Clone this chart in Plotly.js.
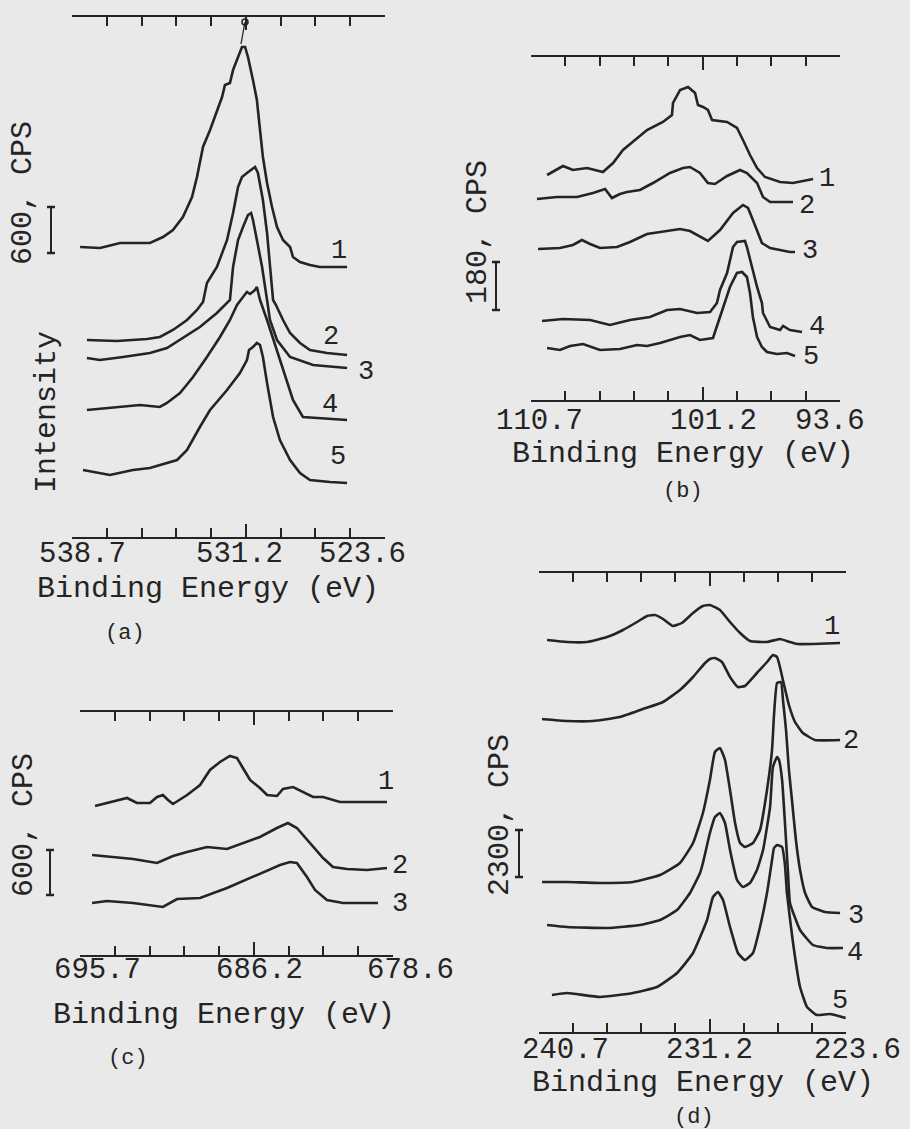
<!DOCTYPE html>
<html>
<head>
<meta charset="utf-8">
<script src="https://cdn.plot.ly/plotly-3.0.1.min.js"></script>
<style>html,body{margin:0;padding:0;background:#e9e9e9;}#chart{width:910px;height:1129px;}</style>
</head>
<body>
<div id="chart"></div>
<script>
// ---------------- DATA (binding energy in eV, intensity in arbitrary units; curves stacked as drawn) ----------------
// Panel (a) O 1s
const aTickText = ['538.7', '531.2', '523.6'];
const a1x = [538.31,537.35,536.38,534.94,534.31,533.83,533.35,532.91,532.67,532.38,532.04,531.71,531.46,531.32,531.08,530.93,530.69,530.50,530.35,530.21,529.97,529.78,529.63,529.49,529.29,529.05,528.81,528.52,528.18,528.04,527.70,527.22,526.74,525.43];
const a1y = [290,289,294,294,300,307,320,340,360,390,407,427,440,452,454,467,480,490,490,480,457,437,407,380,354,330,310,297,290,280,275,272,270,270];
const a2x = [537.98,536.53,535.08,534.46,533.83,533.15,532.67,532.38,532.19,531.71,531.22,530.93,530.69,530.50,530.26,529.87,529.73,529.49,529.29,529.15,529.00,528.86,528.52,528.18,527.70,527.22,526.40,525.43];
const a2y = [197,196,198,200,207,217,227,235,254,270,297,324,350,360,364,370,364,337,304,270,237,232,217,204,194,187,184,182];
const a3x = [537.98,537.35,536.24,534.94,534.12,533.35,532.53,531.71,531.22,531.08,530.93,530.69,530.45,530.21,530.06,529.97,529.78,529.53,529.29,529.15,528.81,528.18,527.07,525.43];
const a3y = [179,177,180,184,189,199,210,224,234,237,270,297,310,322,324,317,297,270,237,217,197,180,172,169];
const a4x = [537.98,536.87,535.42,534.46,534.12,533.49,532.86,532.19,531.56,531.08,530.74,530.45,530.26,530.11,529.87,529.78,529.63,529.29,528.81,528.33,528.04,527.56,526.74,525.43];
const a4y = [127,129,132,130,134,144,160,180,200,217,232,240,245,243,247,250,237,217,187,157,137,120,119,117];
const a5x = [538.17,537.49,536.87,535.76,534.94,533.63,533.15,532.53,532.04,531.22,530.60,530.26,530.16,529.97,529.78,529.63,529.49,529.29,529.00,528.67,528.18,527.70,527.22,526.25,525.43];
const a5y = [67,64,62,67,69,77,87,110,127,147,164,177,187,190,194,192,180,154,120,97,77,64,57,55,54];

// Panel (b) Si 2p
const bTickText = ['110.7', '101.2', '93.6'];
const b1x = [109.81,108.93,108.38,107.60,106.72,106.16,105.61,104.83,104.28,103.40,102.90,102.84,102.45,102.01,101.62,101.46,101.18,100.91,100.68,99.85,99.30,98.97,98.58,98.19,97.75,96.92,96.20,95.09];
const b1y = [225,234,230,232,228,237,250,262,270,278,285,297,310,313,307,295,293,290,280,278,272,260,245,232,223,218,217,221];
const b2x = [110.37,109.26,108.15,107.27,106.60,106.22,105.78,105.39,104.67,103.95,103.01,102.29,101.90,101.35,100.91,100.52,99.85,99.13,98.75,98.19,97.86,97.47,96.20];
const b2y = [201,203,203,207,211,202,206,208,210,217,227,232,233,227,217,216,224,230,227,217,203,198,198];
const b3x = [110.31,109.10,108.38,107.88,107.43,106.88,105.94,105.22,104.28,103.17,102.45,101.90,101.35,100.91,100.24,99.52,98.97,98.69,98.42,97.92,97.47,96.37,96.09];
const b3y = [151,152,155,160,156,152,153,158,166,169,171,169,163,159,170,187,195,192,180,157,152,148,148];
const b4x = [110.09,108.93,107.43,106.33,105.22,104.12,103.17,102.45,101.51,100.79,100.41,100.24,99.85,99.52,99.30,98.86,98.75,98.47,98.19,97.92,97.86,97.47,96.92,96.75,96.37,95.70];
const b4y = [79,81,80,75,80,83,90,91,87,88,97,110,127,153,158,159,153,133,113,97,87,73,70,74,70,68];
const b5x = [109.81,109.10,108.54,107.82,106.88,105.78,104.83,104.28,103.56,102.45,101.90,101.35,100.63,100.35,100.08,99.69,99.30,99.02,98.75,98.58,98.42,98.19,97.92,97.64,97.09,96.53,96.09];
const b5y = [52,50,54,56,50,51,55,54,57,63,65,60,62,77,93,113,127,128,123,107,83,63,53,48,46,47,44];

// Panel (c) F 1s
const cTickText = ['695.7', '686.2', '678.6'];
const c1x = [694.88,694.23,693.68,693.13,692.59,691.88,691.49,691.17,690.89,690.62,689.85,689.14,688.60,688.05,687.51,687.12,686.80,686.41,685.87,685.48,684.94,684.61,684.06,683.52,682.97,682.42,681.50,678.93];
const c1y = [149,152,155,157,152,152,158,160,155,151,160,170,185,193,199,197,187,175,167,160,159,166,168,163,158,158,153,153];
const c2x = [695.04,694.06,692.80,691.49,690.62,689.85,688.76,687.67,686.96,685.87,684.94,684.34,683.85,683.13,682.42,681.88,681.11,680.02,678.93];
const c2y = [100,98,96,92,99,103,108,106,111,118,127,132,127,112,97,88,86,85,87];
const c3x = [695.04,694.23,692.80,691.17,690.40,689.14,687.67,686.25,684.77,684.23,683.85,683.30,682.86,682.21,681.33,679.42];
const c3y = [52,54,52,48,56,57,67,78,90,93,92,78,65,55,52,52];

// Panel (d) Mo 3d
const dTickText = ['240.7', '231.2', '223.6'];
const d1x = [240.25,239.14,238.03,236.91,236.02,235.24,234.68,234.24,233.79,233.24,232.74,232.12,231.57,231.18,230.62,230.06,229.50,228.95,228.00,227.28,226.72,226.33,225.44,223.93];
const d1y = [392,390,390,395,402,410,416,417,413,406,409,419,426,427,422,410,399,391,390,393,390,388,388,389];
const d2x = [240.53,239.14,237.69,236.19,234.91,233.79,232.85,232.12,231.45,231.18,230.90,230.51,230.06,229.62,229.23,228.56,228.00,227.67,227.44,227.28,227.05,226.78,226.44,226.00,225.33,223.93];
const d2y = [313,311,311,315,323,330,342,355,369,373,374,370,355,345,346,359,370,377,375,365,347,327,310,299,292,292];
const d3x = [240.53,239.14,237.30,235.46,233.96,232.85,232.12,231.57,231.18,230.90,230.62,230.34,230.06,229.78,229.50,229.23,228.78,228.39,228.00,227.72,227.61,227.44,227.22,227.11,226.94,226.78,226.61,226.39,226.16,225.88,225.49,224.77,223.93];
const d3y = [150,150,149,150,157,169,189,219,252,280,284,272,242,209,189,185,189,202,242,282,317,349,350,332,302,262,232,192,162,139,125,120,119];
const d4x = [240.25,239.14,236.91,235.07,233.96,233.01,232.29,231.73,231.57,231.18,230.90,230.62,230.34,230.06,229.67,229.34,228.95,228.56,228.22,227.83,227.67,227.44,227.33,227.16,227.00,226.83,226.72,226.16,225.44,224.66,223.77];
const d4y = [107,105,104,107,112,122,139,159,169,199,215,219,209,182,152,145,149,162,182,225,265,275,272,252,209,159,129,102,87,84,84];
const d5x = [239.98,239.14,237.30,235.46,234.13,233.01,232.12,231.34,231.01,230.73,230.45,230.06,229.62,229.23,228.78,228.39,228.00,227.72,227.61,227.44,227.16,227.00,226.89,226.55,226.16,225.77,225.22,224.49,223.62];
const d5y = [37,39,35,39,45,59,79,112,135,140,132,105,79,72,79,105,139,172,184,187,185,167,139,89,45,25,17,18,14];

const curveNames = ['1', '2', '3', '4', '5'];
const xTitle = 'Binding Energy (eV)';
const scaleText = {a: '600, CPS', b: '180, CPS', c: '600, CPS', d: '2300, CPS'};
const panelText = {a: '(a)', b: '(b)', c: '(c)', d: '(d)'};

// ---------------- LAYOUT / STYLE ----------------
const W = 910, H = 1129;
const INK = '#242424';
const FONT = 'Liberation Mono, Courier New, monospace';
const PX = v => v / W, PY = v => 1 - v / H;

// pixel geometry of each panel frame, its end energies and text placements
const geo = {
  a: {L: 72,  R: 385, T: 17,  B: 537,  eL: 538.7, eR: 523.6, ax: '',  ticks: [82, 239, 362], tickY: 555, titleX: 208, titleY: 589, capX: 125, capY: 633, sX: 23,  sY: 193, barX: 51,  bar: [207, 253]},
  b: {L: 531, R: 840, T: 57,  B: 400,  eL: 110.7, eR: 93.6,  ax: '2', ticks: [539, 713, 830], tickY: 421, titleX: 683, titleY: 454, capX: 683, capY: 492, sX: 478, sY: 232, barX: 496, bar: [262, 310]},
  c: {L: 80,  R: 393, T: 712, B: 955,  eL: 695.7, eR: 678.6, ax: '3', ticks: [97, 259, 410], tickY: 970, titleX: 224, titleY: 1015, capX: 128, capY: 1058, sX: 24, sY: 825, barX: 50, bar: [850, 895]},
  d: {L: 539, R: 846, T: 573, B: 1032, eL: 240.7, eR: 223.6, ax: '4', ticks: [565, 709, 857], tickY: 1050, titleX: 703, titleY: 1083, capX: 694, capY: 1117, sX: 500, sY: 815, barX: 519, bar: [830, 877]}
};
// curve-number label positions (px)
const labelPos = {
  a: [[339, 251], [331, 337], [366, 372], [330, 405], [338, 457]],
  b: [[827, 179], [807, 206], [810, 251], [817, 327], [811, 357]],
  c: [[386, 782], [400, 866], [400, 904]],
  d: [[832, 627], [851, 741], [856, 916], [855, 953], [840, 1001]]
};

const series = {
  a: [[a1x, a1y], [a2x, a2y], [a3x, a3y], [a4x, a4y], [a5x, a5y]],
  b: [[b1x, b1y], [b2x, b2y], [b3x, b3y], [b4x, b4y], [b5x, b5y]],
  c: [[c1x, c1y], [c2x, c2y], [c3x, c3y]],
  d: [[d1x, d1y], [d2x, d2y], [d3x, d3y], [d4x, d4y], [d5x, d5y]]
};
const tickTexts = {a: aTickText, b: bTickText, c: cTickText, d: dTickText};

const data = [];
const layout = {
  width: W, height: H,
  margin: {l: 0, r: 0, t: 0, b: 0},
  paper_bgcolor: '#e9e9e9', plot_bgcolor: 'rgba(0,0,0,0)',
  showlegend: false,
  font: {family: FONT, color: INK},
  annotations: [], shapes: []
};

function ann(text, x, y, size, angle) {
  layout.annotations.push({text: text, xref: 'paper', yref: 'paper', x: PX(x), y: PY(y),
    xanchor: 'center', yanchor: 'middle', showarrow: false, textangle: angle || 0,
    font: {family: FONT, size: size, color: INK}});
}
function seg(x0, y0, x1, y1, w) {
  layout.shapes.push({type: 'line', xref: 'paper', yref: 'paper', x0: PX(x0), y0: PY(y0), x1: PX(x1), y1: PY(y1),
    line: {color: INK, width: w || 2}});
}

Object.keys(geo).forEach(k => {
  const g = geo[k];
  const step = (g.eL - g.eR) / 9;
  const all = [];
  for (let i = 0; i <= 9; i++) all.push(g.eL - i * step);
  layout['xaxis' + g.ax] = {
    domain: [PX(g.L), PX(g.R)], range: [g.eL, g.eR], anchor: 'y' + g.ax,
    showline: true, linecolor: INK, linewidth: 2.2, mirror: 'ticks',
    ticks: 'inside', ticklen: 13, tickwidth: 2, tickcolor: INK,
    tickmode: 'array', tickvals: [all[0], all[5], all[9]], showticklabels: false,
    minor: {ticks: 'inside', ticklen: 9, tickwidth: 2, tickcolor: INK, tickmode: 'array', tickvals: all, showgrid: false},
    showgrid: false, zeroline: false, fixedrange: true
  };
  layout['yaxis' + g.ax] = {
    domain: [PY(g.B), PY(g.T)], range: [0, g.B - g.T], anchor: 'x' + g.ax,
    showline: false, showgrid: false, zeroline: false, showticklabels: false, ticks: '', fixedrange: true
  };
  series[k].forEach(s => {
    data.push({x: s[0], y: s[1], xaxis: 'x' + g.ax, yaxis: 'y' + g.ax, type: 'scatter', mode: 'lines',
      line: {color: INK, width: 2.6, shape: k === 'd' ? 'spline' : 'linear', smoothing: 0.4}, hoverinfo: 'skip'});
  });
  tickTexts[k].forEach((t, i) => ann(t, g.ticks[i], g.tickY, 29));
  ann(xTitle, g.titleX, g.titleY, 30);
  ann(panelText[k], g.capX, g.capY, 22);
  ann(scaleText[k], g.sX, g.sY, 30, -90);
  labelPos[k].forEach((p, i) => ann(curveNames[i], p[0], p[1], 27));
  // intensity scale bar
  seg(g.barX, g.bar[0], g.barX, g.bar[1], 2);
  seg(g.barX - 4, g.bar[0], g.barX + 4, g.bar[0], 2.5);
  seg(g.barX - 4, g.bar[1], g.barX + 4, g.bar[1], 2.5);
});
ann('Intensity', 47, 412, 30, -90);
// peak marker of panel (a): small ring on the top frame and a leader to curve 1's maximum
seg(245, 22, 241, 44, 1.3);
layout.shapes.push({type: 'circle', xref: 'paper', yref: 'paper', x0: PX(242), x1: PX(248), y0: PY(25), y1: PY(19),
  line: {color: INK, width: 1.5}});

Plotly.newPlot('chart', data, layout, {displayModeBar: false, staticPlot: true});
</script>
</body>
</html>
